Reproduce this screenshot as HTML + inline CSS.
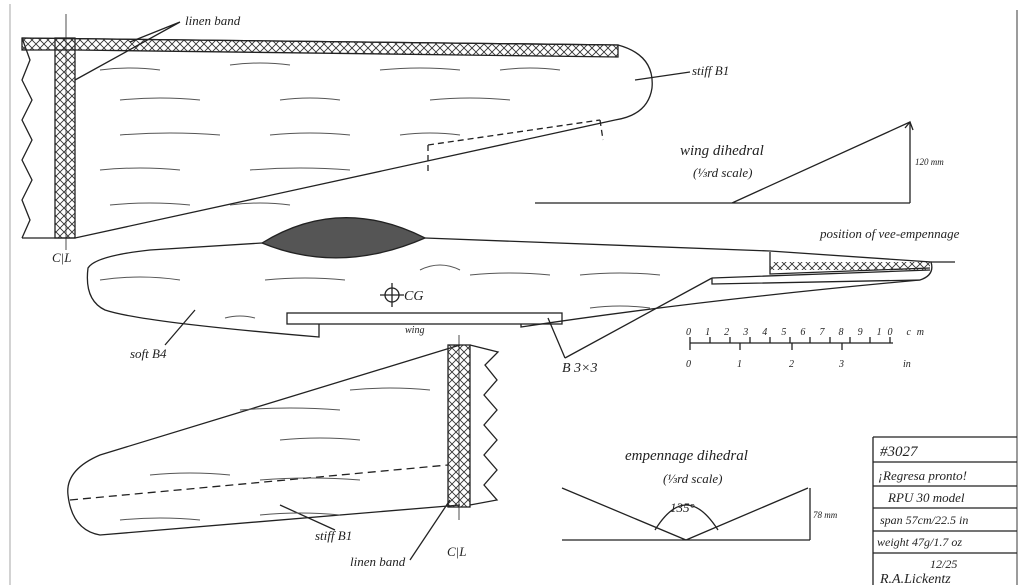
<!DOCTYPE html>
<html><head><meta charset="utf-8"><style>
html,body{margin:0;padding:0;background:#fff}
svg{display:block}
text{font-family:"Liberation Serif",serif;font-style:italic;fill:#222}
</style></head><body>
<svg width="1024" height="585" viewBox="0 0 1024 585" xmlns="http://www.w3.org/2000/svg">
<defs>
<pattern id="hx" width="8" height="8" patternUnits="userSpaceOnUse">
<path d="M0 0L8 8M8 0L0 8" stroke="#333" stroke-width="0.9"/>
</pattern>
</defs>
<g fill="none" stroke="#222" stroke-width="1.3">
<line x1="10" y1="4" x2="10" y2="585" stroke="#bbb"/>
<line x1="1017" y1="10" x2="1017" y2="585" stroke="#666"/>
<!-- top wing -->
<path d="M22 38 L618 45 Q655 55 652 88 Q648 115 615 120 L75 238 L22 238"/>
<path d="M22 38 L30 60 L22 80 L32 100 L22 120 L32 140 L22 160 L32 180 L22 200 L30 220 L22 238"/>
<rect x="55" y="38" width="20" height="200" fill="url(#hx)"/>
<path d="M22 38 L618 45 L618 57 L75 50 L22 50 Z" fill="url(#hx)"/>
<path d="M428 145 L428 172 M428 145 L600 120 M600 120 L603 140" stroke-dasharray="6 4"/>
<line x1="66" y1="14" x2="66" y2="250" stroke-width="0.8"/>
<path d="M180 22 L75 80 M180 22 L130 42"/>
<path d="M690 72 L635 80"/>
<!-- dihedral -->
<path d="M535 203 L910 203 M732 203 L910 122 M910 122 L910 203"/>
<path d="M905 128 L910 122 L913 130"/>
<!-- fuselage -->
<path d="M262 243 L150 250 Q95 256 88 268 Q84 300 105 310 Q140 322 319 337 L319 324 M521 324 L521 327 Q700 300 920 280 Q935 275 931 262 L770 251 L425 238"/>
<path d="M262 243 Q340 195 425 238 Q340 275 262 243 Z" fill="#555"/>
<path d="M770 252 L770 274 L930 268" />
<rect x="770" y="262" width="160" height="8" fill="url(#hx)" stroke="none"/>
<path d="M712 278 L930 270 M712 278 L712 284 L920 280"/>
<rect x="287" y="313" width="275" height="11"/>
<circle cx="392" cy="295" r="7"/>
<path d="M380 295 L404 295 M392 283 L392 307"/>
<path d="M931 262 L955 262"/>
<path d="M195 310 L165 345"/>
<path d="M565 358 L712 278 M565 358 L548 318"/>
<!-- scale -->
<path d="M690 343 L893 343 M690 343 L690 337 M710 343 L710 337 M730 343 L730 337 M750 343 L750 337 M770 343 L770 337 M790 343 L790 337 M810 343 L810 337 M830 343 L830 337 M850 343 L850 337 M870 343 L870 337 M890 343 L890 337"/>
<path d="M690 343 L690 350 M740 343 L740 350 M792 343 L792 350 M842 343 L842 350"/>
<!-- bottom wing -->
<path d="M460 345 L100 455 Q65 470 68 495 Q72 530 100 535 L460 505"/>
<path d="M470 345 L498 352 L485 365 L497 380 L484 395 L497 410 L484 425 L497 440 L484 455 L497 470 L484 485 L497 500 L470 505"/>
<rect x="448" y="345" width="22" height="162" fill="url(#hx)"/>
<path d="M70 500 L448 465" stroke-dasharray="8 5"/>
<line x1="459" y1="335" x2="459" y2="520" stroke-width="0.8"/>
<path d="M280 505 L335 530"/>
<path d="M410 560 L450 500"/>
<!-- empennage dihedral -->
<path d="M562 540 L810 540 M562 488 L686 540 L808 488" />
<path d="M655 530 Q686 480 718 530"/>
<path d="M810 488 L810 540"/>
<!-- title block -->
<path d="M873 437 L1017 437 M873 437 L873 585 M873 462 L1017 462 M873 486 L1017 486 M873 508 L1017 508 M873 531 L1017 531 M873 553 L1017 553"/>
</g>
<g stroke="#555" stroke-width="1" fill="none">
<path d="M100 70 q30 -4 60 0 M230 65 q30 -4 60 0 M380 70 q40 -4 80 0 M500 70 q30 -4 60 0 M120 100 q40 -4 80 0 M280 100 q30 -4 60 0 M430 100 q40 -4 80 0 M120 135 q50 -4 100 0 M270 135 q40 -4 80 0 M400 135 q30 -4 60 0 M100 170 q40 -4 80 0 M250 170 q50 -4 100 0 M110 205 q40 -4 80 0 M230 205 q30 -4 60 0 M100 280 q40 -6 80 0 M265 280 q40 -4 80 0 M420 270 q20 -10 40 0 M470 275 q40 -4 80 0 M580 275 q40 -4 80 0 M225 318 q15 -4 30 0 M590 308 q30 -4 60 0 M240 410 q50 -4 100 0 M280 440 q40 -4 80 0 M150 475 q40 -4 80 0 M260 480 q50 -4 100 0 M120 520 q40 -4 80 0 M260 515 q40 -4 80 0 M350 390 q40 -4 80 0"/>
</g>
<g font-size="13">
<text x="185" y="25">linen band</text>
<text x="692" y="75">stiff B1</text>
<text x="680" y="155" font-size="15">wing dihedral</text>
<text x="693" y="177">(⅓rd scale)</text>
<text x="915" y="165" font-size="9">120 mm</text>
<text x="820" y="238">position of vee-empennage</text>
<text x="52" y="262" font-style="normal">C|L</text>
<text x="404" y="300" font-style="normal" font-size="14">CG</text>
<text x="405" y="333" font-size="10">wing</text>
<text x="130" y="358">soft B4</text>
<text x="562" y="372" font-style="normal" font-size="14">B 3×3</text>
<text x="686" y="335" font-size="10" textLength="238">0  1  2  3  4  5  6  7  8  9  10  cm</text>
<text x="686" y="367" font-size="10">0</text><text x="737" y="367" font-size="10">1</text>
<text x="789" y="367" font-size="10">2</text><text x="839" y="367" font-size="10">3</text>
<text x="903" y="367" font-size="10">in</text>
<text x="315" y="540">stiff B1</text>
<text x="350" y="566">linen band</text>
<text x="447" y="556" font-style="normal">C|L</text>
<text x="625" y="460" font-size="15">empennage dihedral</text>
<text x="663" y="483">(⅓rd scale)</text>
<text x="670" y="512" font-style="normal">135°</text>
<text x="813" y="518" font-size="9">78 mm</text>
<text x="880" y="456" font-size="15">#3027</text>
<text x="878" y="480">¡Regresa pronto!</text>
<text x="888" y="502">RPU 30 model</text>
<text x="880" y="524" font-size="12">span 57cm/22.5 in</text>
<text x="877" y="546" font-size="12">weight 47g/1.7 oz</text>
<text x="930" y="568" font-size="12">12/25</text>
<text x="880" y="583" font-size="14">R.A.Lickentz</text>
</g>
</svg>
</body></html>
